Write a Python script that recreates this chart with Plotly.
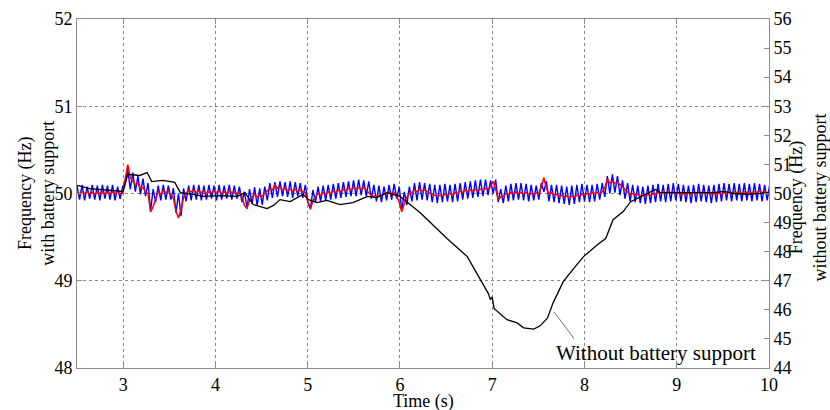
import plotly.graph_objects as go

# with battery support: sampled every DT seconds starting at T0 (left axis)
T0 = 2.5
DT = 0.0275

blue_hz = [
    50.09, 49.93, 50.10, 49.92, 50.08, 49.94, 50.10, 49.93, 50.09, 49.92,
    50.10, 49.94, 50.09, 49.93, 50.10, 49.92, 50.08, 49.94, 50.08, 50.12,
    50.28, 50.05, 50.24, 50.02, 50.20, 49.99, 50.17, 49.97, 50.12, 49.80,
    50.05, 49.90, 50.09, 49.92, 50.10, 49.93, 50.09, 49.93, 50.06, 49.78,
    50.00, 49.74, 50.06, 49.91, 50.09, 49.92, 50.10, 49.93, 50.10, 49.92,
    50.09, 49.93, 50.10, 49.94, 50.09, 49.92, 50.10, 49.93, 50.09, 49.94,
    50.10, 49.93, 50.09, 49.94, 50.08, 49.90, 50.02, 49.83, 50.05, 49.88,
    50.07, 49.86, 50.06, 49.87, 50.08, 49.92, 50.12, 49.95, 50.13, 49.96,
    50.14, 49.97, 50.13, 49.96, 50.14, 49.95, 50.13, 49.97, 50.12, 49.95,
    50.10, 49.90, 49.83, 50.04, 49.90, 50.08, 49.91, 50.09, 49.92, 50.10,
    49.93, 50.11, 49.94, 50.12, 49.95, 50.13, 49.96, 50.14, 49.97, 50.15,
    49.97, 50.16, 49.98, 50.15, 49.97, 50.14, 49.94, 50.10, 49.91, 50.09,
    49.90, 50.08, 49.92, 50.10, 49.93, 50.11, 49.94, 50.08, 49.80, 50.02,
    49.87, 50.08, 49.91, 50.12, 49.92, 50.13, 49.93, 50.12, 49.92, 50.11,
    49.90, 50.10, 49.89, 50.10, 49.90, 50.11, 49.91, 50.10, 49.90, 50.11,
    49.91, 50.12, 49.93, 50.13, 49.94, 50.14, 49.95, 50.15, 49.96, 50.16,
    49.97, 50.16, 49.98, 50.15, 50.00, 50.16, 49.90, 50.05, 49.89, 50.09,
    49.91, 50.11, 49.92, 50.12, 49.93, 50.12, 49.92, 50.11, 49.91, 50.10,
    49.92, 50.09, 49.93, 50.12, 50.02, 50.14, 49.91, 50.10, 49.90, 50.10,
    49.89, 50.09, 49.88, 50.08, 49.87, 50.09, 49.88, 50.10, 49.90, 50.11,
    49.91, 50.10, 49.90, 50.10, 49.91, 50.11, 49.93, 50.12, 49.96, 50.20,
    50.00, 50.22, 50.01, 50.20, 49.98, 50.15, 49.94, 50.12, 49.91, 50.10,
    49.90, 50.09, 49.89, 50.08, 49.88, 50.09, 49.89, 50.10, 49.90, 50.11,
    49.91, 50.10, 49.90, 50.11, 49.91, 50.12, 49.92, 50.11, 49.91, 50.10,
    49.90, 50.09, 49.89, 50.10, 49.90, 50.11, 49.91, 50.10, 49.90, 50.09,
    49.89, 50.10, 49.90, 50.11, 49.91, 50.12, 49.92, 50.11, 49.91, 50.12,
    49.92, 50.11, 49.91, 50.12, 49.92, 50.11, 49.91, 50.12, 49.92, 50.11,
    49.91, 50.10, 49.92, 50.10,
]

red_hz = [
    50.02, 50.00, 50.02, 50.00, 50.02, 49.99, 50.01, 49.99, 50.02, 50.00,
    50.02, 49.99, 50.02, 49.99, 50.02, 50.00, 50.02, 49.99, 50.00, 50.15,
    50.33, 50.18, 50.14, 50.10, 50.12, 50.06, 50.07, 50.02, 50.00, 49.79,
    49.85, 49.95, 50.02, 49.99, 50.03, 50.01, 50.03, 49.98, 49.95, 49.80,
    49.72, 49.82, 49.95, 50.00, 50.04, 50.02, 50.04, 50.01, 50.03, 50.01,
    50.03, 50.00, 50.02, 50.01, 50.03, 50.01, 50.03, 50.00, 50.02, 50.00,
    50.03, 50.01, 50.02, 50.00, 50.01, 49.97, 49.86, 49.83, 49.92, 49.96,
    49.99, 49.96, 49.98, 49.97, 50.00, 50.02, 50.06, 50.04, 50.10, 50.06,
    50.07, 50.04, 50.06, 50.03, 50.05, 50.03, 50.05, 50.02, 50.04, 50.02,
    50.01, 49.90, 49.82, 49.92, 49.97, 50.00, 49.98, 50.01, 49.99, 50.02,
    50.00, 50.03, 50.01, 50.04, 50.02, 50.05, 50.03, 50.06, 50.04, 50.07,
    50.05, 50.07, 50.05, 50.07, 50.04, 50.02, 49.98, 49.97, 49.96, 49.98,
    49.97, 50.00, 49.99, 50.02, 50.00, 50.01, 49.97, 49.90, 49.79, 49.88,
    49.96, 50.00, 50.01, 50.04, 50.02, 50.05, 50.03, 50.04, 50.02, 50.01,
    49.99, 49.98, 49.97, 49.98, 49.97, 49.99, 49.98, 50.00, 49.99, 50.01,
    50.00, 50.03, 50.01, 50.04, 50.02, 50.04, 50.03, 50.05, 50.03, 50.05,
    50.04, 50.06, 50.05, 50.08, 50.14, 50.05, 49.93, 49.96, 49.97, 50.00,
    49.99, 50.01, 50.00, 50.02, 50.00, 50.01, 49.99, 50.01, 49.99, 50.00,
    49.99, 50.01, 50.00, 50.08, 50.18, 50.06, 50.00, 50.01, 49.98, 49.99,
    49.97, 49.98, 49.96, 49.97, 49.95, 49.97, 49.96, 49.98, 49.97, 49.99,
    49.98, 50.00, 49.99, 50.01, 50.00, 50.01, 50.00, 50.02, 50.06, 50.17,
    50.12, 50.14, 50.12, 50.13, 50.10, 50.08, 50.04, 50.02, 49.99, 50.00,
    49.98, 49.99, 49.97, 49.98, 49.97, 49.99, 49.98, 50.00, 49.99, 50.01,
    50.00, 50.02, 50.00, 50.02, 50.01, 50.02, 50.00, 50.01, 49.99, 50.00,
    49.99, 50.01, 49.99, 50.01, 50.00, 50.02, 50.00, 50.02, 50.00, 50.01,
    49.99, 50.00, 49.99, 50.01, 49.99, 50.01, 50.00, 50.02, 50.00, 50.02,
    50.01, 50.02, 50.00, 50.02, 50.01, 50.02, 50.00, 50.02, 50.01, 50.03,
    50.01, 50.02, 50.01, 50.02,
]

# without battery support (right axis)
black_t = [
    2.50, 2.64, 3.00, 3.05, 3.18, 3.26, 3.31, 3.43, 3.56, 3.62,
    3.76, 3.87, 4.05, 4.24, 4.32, 4.41, 4.56, 4.63, 4.70, 4.81,
    4.95, 5.01, 5.10, 5.21, 5.35, 5.49, 5.65, 5.75, 5.86, 6.00,
    6.11, 6.22, 6.33, 6.51, 6.73, 6.87, 6.96, 6.98, 7.00, 7.02,
    7.16, 7.27, 7.34, 7.45, 7.52, 7.55, 7.60, 7.66, 7.77, 7.88,
    7.99, 8.14, 8.23, 8.31, 8.42, 8.50, 8.61, 8.69, 8.77, 8.82,
    8.93, 9.15, 9.40, 9.51, 9.62, 9.77, 10.00,
]
black_hz = [
    50.28, 50.17, 50.07, 50.66, 50.62, 50.72, 50.41, 50.45, 50.38, 50.03,
    49.97, 49.90, 49.93, 49.90, 50.03, 49.62, 49.48, 49.59, 49.79, 49.72,
    49.97, 49.79, 49.69, 49.76, 49.62, 49.69, 49.90, 49.86, 50.03, 49.90,
    49.62, 49.34, 49.00, 48.45, 47.83, 47.03, 46.55, 46.35, 46.45, 46.05,
    45.66, 45.55, 45.38, 45.34, 45.45, 45.55, 45.72, 46.24, 46.97, 47.41,
    47.83, 48.24, 48.45, 49.10, 49.38, 49.72, 49.90, 50.03, 50.14, 50.03,
    50.03, 50.03, 50.03, 50.07, 50.00, 49.97, 50.03,
]

x_ticks = [3, 4, 5, 6, 7, 8, 9, 10]
left_ticks = [48, 49, 50, 51, 52]
right_ticks = list(range(44, 57))

FONT = "Liberation Serif, Times New Roman, serif"
AXIS_GRAY = "#8c8c8c"
GRID_GRAY = "#8a8a8a"

blue_t = [T0 + DT * i for i in range(len(blue_hz))]
red_t = [T0 + DT * i for i in range(len(red_hz))]

fig = go.Figure()
fig.add_trace(go.Scatter(x=blue_t, y=blue_hz, mode="lines",
                         line=dict(color="#0000FF", width=1.4), showlegend=False))
fig.add_trace(go.Scatter(x=red_t, y=red_hz, mode="lines",
                         line=dict(color="#FF0000", width=1.5), showlegend=False))
fig.add_trace(go.Scatter(x=black_t, y=black_hz, mode="lines", yaxis="y2",
                         line=dict(color="#000000", width=1.3), showlegend=False))

# labels
fig.add_annotation(x=8.77, y=44.52, xref="x", yref="y2", text="Without battery support",
                   showarrow=False, font=dict(size=21))
fig.add_annotation(x=7.67, y=45.93, xref="x", yref="y2", text="", showarrow=True,
                   arrowhead=0, arrowwidth=1, arrowcolor="#707070", ax=21, ay=28)
fig.add_annotation(x=0.5, y=-0.097, xref="paper", yref="paper", text="Time (s)",
                   showarrow=False, xanchor="center", yanchor="middle")
fig.add_annotation(x=-0.059, y=0.5, xref="paper", yref="paper", textangle=-90,
                   xanchor="center", yanchor="middle",
                   text="Frequency (Hz)<br>with battery support", showarrow=False)
fig.add_annotation(x=1.057, y=0.49, xref="paper", yref="paper", textangle=-90,
                   xanchor="center", yanchor="middle",
                   text="Frequency (Hz)<br>without battery support", showarrow=False)

fig.update_layout(
    width=830, height=410,
    margin=dict(l=77, r=61, t=19, b=42, autoexpand=False),
    plot_bgcolor="white", paper_bgcolor="white",
    font=dict(family=FONT, size=18, color="black"),
    xaxis=dict(
        range=[2.5, 10], tickvals=x_ticks, ticks="inside", ticklen=5,
        tickcolor=AXIS_GRAY, showline=True, linecolor=AXIS_GRAY, linewidth=1,
        mirror="ticks", showgrid=True, gridcolor=GRID_GRAY, griddash="dot",
        gridwidth=1, zeroline=False, automargin=False,
    ),
    yaxis=dict(
        range=[48, 52], tickvals=left_ticks, ticks="inside", ticklen=5,
        tickcolor=AXIS_GRAY, showline=True, linecolor=AXIS_GRAY, linewidth=1,
        showgrid=True, gridcolor=GRID_GRAY, griddash="dot", gridwidth=1,
        zeroline=False, automargin=False,
    ),
    yaxis2=dict(
        range=[44, 56], tickvals=right_ticks, overlaying="y", side="right",
        ticks="inside", ticklen=5, tickcolor=AXIS_GRAY, showline=True,
        linecolor=AXIS_GRAY, linewidth=1, showgrid=False, zeroline=False,
        automargin=False,
    ),
)

# the page's default body margin would shift the figure
fig.write_html("out.html", config={"displayModeBar": False},
               post_script="document.body.style.margin='0';")
